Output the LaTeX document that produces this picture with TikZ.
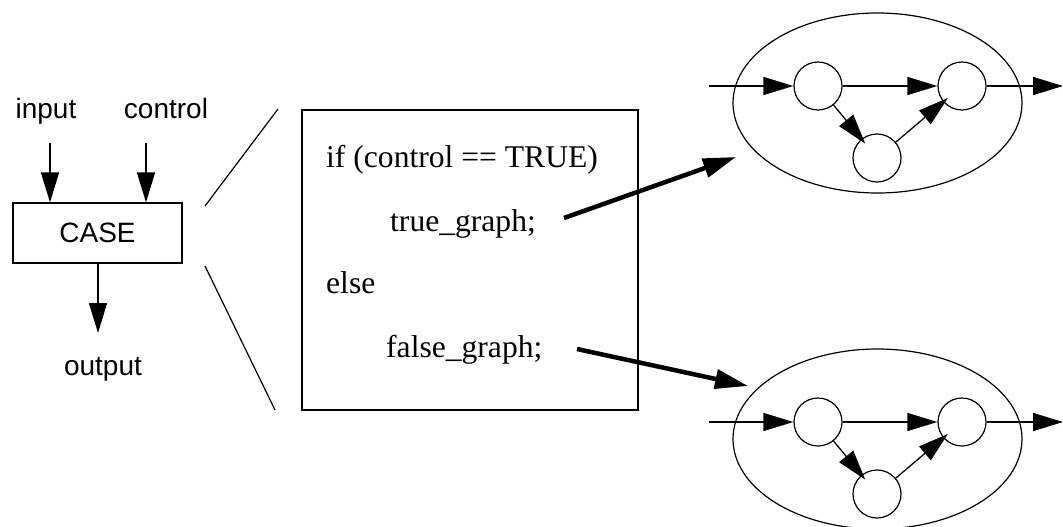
\documentclass[tikz,border=0pt]{standalone}
\usepackage{fontspec}
\setmainfont{Liberation Serif}
\newfontfamily\lsans{Liberation Sans}
\usetikzlibrary{arrows.meta,shapes.geometric}
\begin{document}
\begin{tikzpicture}[x=1pt,y=-1pt,
  thinl/.style={line width=1.2pt},
  arr/.style={line width=1.3pt,-{Triangle[length=30pt,width=18pt]}},
  bigarr/.style={line width=4.5pt,-{Triangle[length=33pt,width=19pt]}},
  lab/.style={font=\lsans\fontsize{28}{30}\selectfont,inner sep=0pt,anchor=base},
  code/.style={font=\fontsize{31.6}{34}\selectfont,inner sep=0pt,anchor=base west},
  boxn/.style={draw,line width=1.2pt,inner sep=0pt},
  st/.style={circle,draw,line width=1.2pt,minimum size=48pt,inner sep=0pt},
  grp/.style={ellipse,draw,line width=1.2pt,minimum width=289pt,minimum height=180pt,inner sep=0pt}]
\useasboundingbox (0,0) rectangle (1063,527);

% CASE block
\node[boxn,minimum width=169pt,minimum height=60pt,font=\lsans\fontsize{28}{30}\selectfont] (case) at (97.5,233) {\raisebox{-5pt}{CASE}};
\node[lab] (input) at (46,118) {input};
\node[lab] (control) at (166,118) {control};
\node[lab] (output) at (103,375) {output};
\coordinate (i0) at (50,143);
\coordinate (c0) at (146,143);
\coordinate (o1) at (98,333);
\draw[arr] (i0) -- (i0 |- case.north);
\draw[arr] (c0) -- (c0 |- case.north);
\draw[arr] (o1 |- case.south) -- (o1);

% zoom lines
\coordinate (z1a) at (205,206);
\coordinate (z1b) at (278,109);
\coordinate (z2a) at (205,266);
\coordinate (z2b) at (275,410);
\draw[thinl] (z1a) -- (z1b);
\draw[thinl] (z2a) -- (z2b);

% code box
\node[boxn,minimum width=336pt,minimum height=300pt] (codebox) at (470,260) {};
\node[code] (l1) at (326,167) {if (control == TRUE)};
\node[code] (l2) at (390,231) {true\_graph;};
\node[code] (l3) at (326,293) {else};
\node[code] (l4) at (386,357) {false\_graph;};

% graphs
\foreach \g/\dy in {t/0,f/336}{
  \node[grp] (\g e) at (877.5,103+\dy) {};
  \node[st] (\g a) at (818,86+\dy) {};
  \node[st] (\g c) at (962,86+\dy) {};
  \node[st] (\g b) at (877,158+\dy) {};
  \coordinate (\g in) at (709,86+\dy);
  \coordinate (\g out) at (1063,86+\dy);
  \draw[arr] (\g in) -- (\g a);
  \draw[arr] (\g a) -- (\g c);
  \draw[arr] (\g c) -- (\g out);
  \draw[arr,shorten >=-6pt] (\g a) -- (\g b);
  \draw[arr,shorten >=-6pt] (\g b) -- (\g c);
}

% big arrows
\coordinate (tg0) at (564,218);
\coordinate (tg1) at (736,157);
\coordinate (fg0) at (577,349);
\coordinate (fg1) at (748,386);
\draw[bigarr] (tg0) -- (tg1);
\draw[bigarr] (fg0) -- (fg1);
\end{tikzpicture}
\end{document}
